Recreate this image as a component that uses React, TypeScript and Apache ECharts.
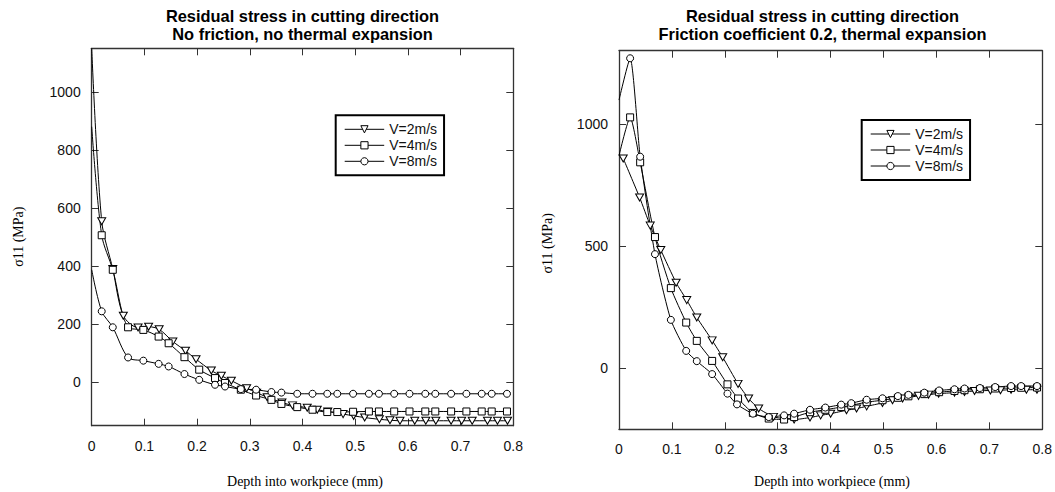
import { useEffect, useRef } from "react";
import * as echarts from "echarts";

const seriesNames = ["V=2m/s", "V=4m/s", "V=8m/s"];
const xTicks = [0, 0.1, 0.2, 0.3, 0.4, 0.5, 0.6, 0.7, 0.8];
const leftYTicks = [0, 200, 400, 600, 800, 1000];
const rightYTicks = [0, 500, 1000];

const leftTitle = ["Residual stress in cutting direction", "No friction, no thermal expansion"];
const rightTitle = ["Residual stress in cutting direction", "Friction coefficient 0.2, thermal expansion"];
const xName = "Depth into workpiece (mm)";
const yName = "σ11 (MPa)";

// Left chart: no friction, no thermal expansion
const leftV2X = [0, 0.019, 0.04, 0.06, 0.088, 0.108, 0.128, 0.154, 0.178, 0.198, 0.227, 0.246, 0.265, 0.294, 0.313, 0.333, 0.361, 0.381, 0.409, 0.428, 0.448, 0.477, 0.497, 0.518, 0.546, 0.566, 0.585, 0.613, 0.634, 0.653, 0.682, 0.702, 0.722, 0.751, 0.77, 0.789];
const leftV2Y = [1150, 554, 390, 229, 188, 191, 182, 140, 108, 79, 40, 22, 5, -21, -36, -52, -70, -80, -88, -95, -101, -110, -116, -122, -128, -131, -133, -133, -133, -133, -133, -133, -133, -133, -133, -133];
const leftV4X = [0, 0.019, 0.04, 0.069, 0.098, 0.127, 0.146, 0.176, 0.204, 0.234, 0.253, 0.283, 0.312, 0.341, 0.36, 0.39, 0.419, 0.447, 0.466, 0.496, 0.526, 0.545, 0.574, 0.603, 0.633, 0.652, 0.682, 0.711, 0.74, 0.759, 0.788];
const leftV4Y = [880, 506, 387, 189, 180, 157, 134, 86, 43, 14, -3, -26, -46, -61, -75, -86, -95, -103, -103, -102, -101, -101, -101, -101, -101, -101, -101, -101, -101, -101, -101];
const leftV8X = [0, 0.019, 0.04, 0.069, 0.098, 0.127, 0.146, 0.176, 0.204, 0.234, 0.253, 0.283, 0.312, 0.341, 0.36, 0.39, 0.419, 0.447, 0.466, 0.496, 0.526, 0.545, 0.574, 0.603, 0.633, 0.652, 0.682, 0.711, 0.74, 0.759, 0.788];
const leftV8Y = [387, 244, 189, 85, 74, 63, 54, 28, 8, -9, -15, -24, -26, -34, -36, -40, -40, -40, -40, -40, -40, -40, -40, -40, -40, -40, -40, -40, -40, -40, -40];

// Right chart: friction coefficient 0.2, thermal expansion
const rightV2X = [0.008, 0.039, 0.059, 0.079, 0.108, 0.128, 0.147, 0.176, 0.196, 0.225, 0.245, 0.264, 0.292, 0.312, 0.331, 0.361, 0.381, 0.4, 0.43, 0.449, 0.468, 0.498, 0.517, 0.536, 0.566, 0.585, 0.604, 0.634, 0.653, 0.672, 0.702, 0.721, 0.741, 0.77, 0.79];
const rightV2Y = [859, 699, 584, 484, 350, 279, 208, 114, 45, -64, -124, -165, -199, -206, -210, -202, -193, -186, -172, -165, -156, -142, -131, -124, -113, -108, -104, -100, -97, -93, -91, -90, -88, -88, -88];
const rightV4X = [0, 0.021, 0.04, 0.068, 0.098, 0.127, 0.147, 0.176, 0.205, 0.225, 0.253, 0.283, 0.312, 0.331, 0.361, 0.39, 0.42, 0.439, 0.468, 0.498, 0.527, 0.547, 0.577, 0.605, 0.634, 0.653, 0.682, 0.711, 0.741, 0.76, 0.79];
const rightV4Y = [870, 1027, 843, 537, 328, 187, 112, 30, -66, -124, -183, -206, -210, -200, -180, -170, -159, -152, -139, -131, -121, -115, -106, -98, -93, -90, -86, -83, -81, -80, -79];
const rightV8X = [0, 0.021, 0.04, 0.068, 0.098, 0.127, 0.147, 0.176, 0.205, 0.223, 0.253, 0.283, 0.312, 0.331, 0.361, 0.39, 0.42, 0.439, 0.468, 0.498, 0.527, 0.547, 0.577, 0.605, 0.634, 0.653, 0.682, 0.711, 0.741, 0.76, 0.79];
const rightV8Y = [1098, 1269, 866, 467, 198, 71, 29, -24, -104, -148, -186, -200, -193, -186, -170, -161, -149, -143, -129, -123, -114, -109, -100, -91, -86, -83, -81, -77, -73, -73, -73];

const SANS = '"Liberation Sans", Arial, Helvetica, sans-serif';
const SERIF = '"Liberation Serif", "Times New Roman", Times, serif';
const AXIS_COLOR = "#333";

function toData(xs: number[], ys: number[]) {
  return xs.map((x, i) => (x === 0 ? { value: [x, ys[i]], symbol: "none" } : [x, ys[i]]));
}

const markerStyles = [
  { symbol: "triangle", symbolSize: [8, 7], symbolRotate: 180 },
  { symbol: "rect", symbolSize: 7, symbolRotate: 0 },
  { symbol: "circle", symbolSize: 7, symbolRotate: 0 },
];

function makeSeries(idx: number, axisIdx: number, xs: number[], ys: number[], smooth: number) {
  const m = markerStyles[idx];
  return {
    type: "line",
    name: seriesNames[idx],
    xAxisIndex: axisIdx,
    yAxisIndex: axisIdx,
    data: toData(xs, ys),
    symbol: m.symbol,
    symbolSize: m.symbolSize,
    symbolRotate: m.symbolRotate,
    showAllSymbol: true,
    smooth,
    clip: true,
    lineStyle: { color: "#000", width: 1 },
    itemStyle: { color: "#fff", borderColor: "#000", borderWidth: 1 },
    emphasis: { disabled: true },
    silent: true,
  };
}

const plainNum = (v: number) => String(Math.round(v * 1000) / 1000);

function xAxisPair(gridIndex: number) {
  const common = {
    type: "value",
    gridIndex,
    min: xTicks[0],
    max: xTicks[xTicks.length - 1],
    interval: 0.1,
    splitLine: { show: false },
    axisLine: { show: true, onZero: false, lineStyle: { color: AXIS_COLOR, width: 1.3 } },
    axisTick: { show: true, inside: true, length: 7, lineStyle: { color: AXIS_COLOR, width: 1 } },
  };
  return [
    {
      ...common,
      position: "bottom",
      axisLabel: { show: true, margin: 13, fontSize: 14, fontFamily: SANS, color: "#111", formatter: plainNum },
    },
    { ...common, position: "top", axisLabel: { show: false } },
  ];
}

function yAxisPair(gridIndex: number, min: number, max: number, ticks: number[]) {
  const common = {
    type: "value",
    gridIndex,
    min,
    max,
    splitLine: { show: false },
    axisLine: { show: true, onZero: false, lineStyle: { color: AXIS_COLOR, width: 1.3 } },
    axisTick: { show: true, inside: true, length: 7, customValues: ticks, lineStyle: { color: AXIS_COLOR, width: 1 } },
  };
  return [
    {
      ...common,
      position: "left",
      axisLabel: {
        show: true,
        margin: 11,
        customValues: ticks,
        fontSize: 14,
        fontFamily: SANS,
        color: "#111",
        formatter: plainNum,
      },
    },
    { ...common, position: "right", axisLabel: { show: false } },
  ];
}

function text(x: number, y: number, t: string, font: string, rotation = 0) {
  return {
    type: "text",
    x,
    y,
    rotation,
    silent: true,
    style: { text: t, font, fill: "#000", textAlign: "center", textVerticalAlign: "middle" },
  };
}

function legend(left: number, top: number) {
  return {
    data: seriesNames,
    orient: "vertical",
    left,
    top,
    itemWidth: 39.5,
    itemHeight: 9,
    itemGap: 2,
    padding: [7, 7, 7, 8.5],
    borderColor: "#000",
    borderWidth: 2,
    backgroundColor: "#fff",
    selectedMode: false,
    itemStyle: { color: "#fff", borderColor: "#000", borderWidth: 1 },
    lineStyle: { color: "#000", width: 1 },
    textStyle: { fontSize: 14, fontFamily: SANS, color: "#111", lineHeight: 14 },
  };
}

export default function App() {
  const ref = useRef<HTMLDivElement>(null);
  useEffect(() => {
    if (!ref.current) return;
    const chart = echarts.init(ref.current, null, { renderer: "svg" });
    const titleFont = `bold 16.4px ${SANS}`;
    const nameFont = `14px ${SERIF}`;
    chart.setOption({
      animation: false,
      backgroundColor: "#fff",
      grid: [
        { left: 91.7, right: 541.7, top: 48.3, bottom: 66.3, containLabel: false, outerBoundsMode: "none" },
        { left: 619, right: 12.7, top: 50.7, bottom: 62.7, containLabel: false, outerBoundsMode: "none" },
      ],
      xAxis: [...xAxisPair(0), ...xAxisPair(1)],
      yAxis: [...yAxisPair(0, -150, 1150, leftYTicks), ...yAxisPair(1, -250, 1300, rightYTicks)],
      legend: [legend(335.7, 115.3), legend(861.7, 120)],
      series: [
        makeSeries(0, 0, leftV2X, leftV2Y, 0.3),
        makeSeries(1, 0, leftV4X, leftV4Y, 0.3),
        makeSeries(2, 0, leftV8X, leftV8Y, 0.3),
        makeSeries(0, 2, rightV2X, rightV2Y, 0.2),
        makeSeries(1, 2, rightV4X, rightV4Y, 0.2),
        makeSeries(2, 2, rightV8X, rightV8Y, 0.2),
      ],
      graphic: [
        text(302.5, 15.7, leftTitle[0], titleFont),
        text(302.5, 34.3, leftTitle[1], titleFont),
        text(822.5, 15.7, rightTitle[0], titleFont),
        text(822.5, 34.3, rightTitle[1], titleFont),
        text(305, 481.7, xName, nameFont),
        text(832, 481.7, xName, nameFont),
        text(18.6, 236.7, yName, nameFont, Math.PI / 2),
        text(547, 243.3, yName, nameFont, Math.PI / 2),
      ],
    });
    return () => chart.dispose();
  }, []);
  return (
    <div
      ref={ref}
      style={{ position: "fixed", left: 0, top: 0, width: 1055, height: 492, background: "#fff" }}
    />
  );
}
